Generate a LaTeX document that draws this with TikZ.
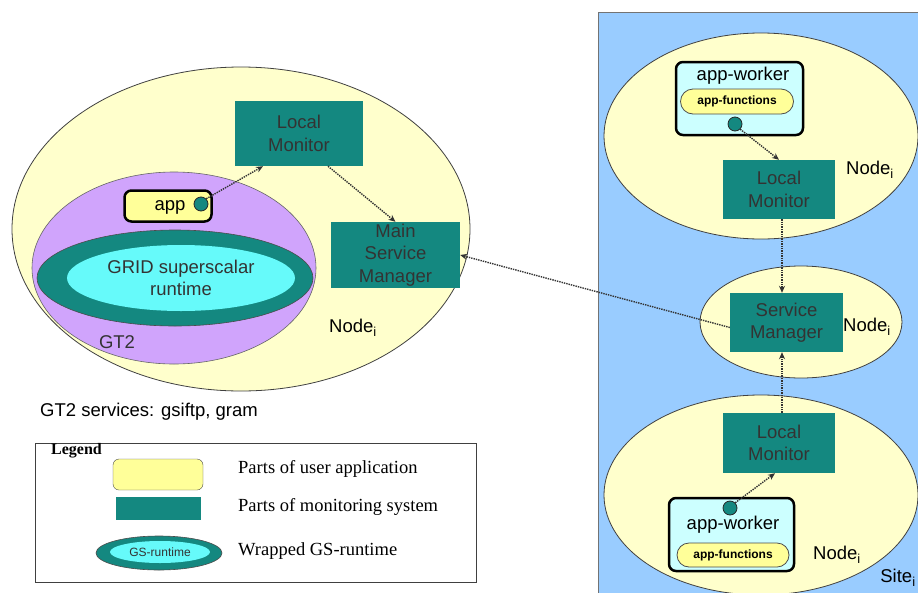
\documentclass[tikz,border=0pt]{standalone}
\usepackage{fontspec}
\setmainfont{Liberation Serif}
\setsansfont{Liberation Sans}
\usetikzlibrary{arrows.meta, shapes.geometric, shapes.misc}
\definecolor{cteal}{HTML}{148880}
\definecolor{cyell}{HTML}{FFFFCC}
\definecolor{capp}{HTML}{FFFF99}
\definecolor{cpurple}{HTML}{D0A4FC}
\definecolor{ccore}{HTML}{66FAFA}
\definecolor{cworker}{HTML}{CCFFFF}
\definecolor{csite}{HTML}{99CCFF}
\tikzset{
  every picture/.style={font=\sffamily\fontsize{18.5}{22.5}\selectfont},
  nodeell/.style={ellipse, draw=black!75, fill=cyell, line width=0.8pt, inner sep=0pt},
  gtell/.style={ellipse, draw=black!60, fill=cpurple, line width=0.6pt, inner sep=0pt},
  ringell/.style={ellipse, draw=black!70, fill=cteal, line width=0.6pt, inner sep=0pt},
  coreell/.style={ellipse, fill=ccore, text=black!80, inner sep=0pt, align=center},
  monbox/.style={rectangle, fill=cteal, text=black!80, align=center, inner sep=0pt},
  appbox/.style={draw=black, line width=2.5pt, rounded corners=7pt, inner sep=0pt},
  pill/.style={rounded rectangle, draw=black!70, fill=capp, line width=0.8pt, inner sep=0pt,
    font=\sffamily\bfseries\fontsize{12}{14}\selectfont},
  hook/.style={circle, fill=cteal, draw=black!85, line width=0.8pt, minimum size=14pt, inner sep=0pt},
  dotarrow/.style={densely dotted, line width=1.4pt, draw=black!80, -{Stealth[length=7pt, width=6pt]}},
  lbl/.style={inner sep=0pt},
  legtext/.style={inner sep=0pt, anchor=west, font=\rmfamily\fontsize{18.5}{22}\selectfont},
}
\begin{document}
\begin{tikzpicture}[x=1pt, y=-1pt]
  \useasboundingbox (0,0) rectangle (918,592);
  % site background
  \fill[csite] (598,12) rectangle (920,594);
  \draw[black!55, line width=1pt] (598,594) -- (598,12) -- (920,12);

  % master node with GT2
  \node[nodeell, minimum width=458pt, minimum height=324pt] (nodeA) at (241,229) {};
  \node[gtell, minimum width=284pt, minimum height=192pt] (gt) at (174,268) {};
  \node[ringell, minimum width=276pt, minimum height=96pt] (ring) at (175,278) {};
  \node[coreell, minimum width=228pt, minimum height=66pt] (core) at (181,278) {GRID superscalar\\runtime};
  \node[appbox, fill=capp, minimum width=87pt, minimum height=31pt] (app) at (168,206) {};
  \node[lbl] (applbl) at (170,207) {app};
  \node[hook] (hookA) at (201,204) {};
  \node[monbox, minimum width=128pt, minimum height=65pt] (lmA) at (299,133.5) {Local\\Monitor};
  \node[monbox, minimum width=129pt, minimum height=66pt] (msm) at (395.5,255) {Main\\Service\\Manager};
  \node[lbl] (nodeAlbl) at (353,328) {Node\textsubscript{i}};
  \node[lbl, text=black!80] (gtlbl) at (117,342) {GT2};
  \node[lbl, anchor=west] (gtserv) at (40,412) {GT2 services: gsiftp, gram};

  % worker node (top)
  \node[nodeell, minimum width=314pt, minimum height=206pt] (nodeB) at (761,136) {};
  \node[appbox, fill=cworker, minimum width=127pt, minimum height=73pt] (awB) at (739.5,98.5) {};
  \node[lbl] (awBlbl) at (743,76) {app-worker};
  \node[pill, minimum width=113pt, minimum height=25pt] (afB) at (737,101.5) {app-functions};
  \node[hook] (hookB) at (735,124) {};
  \node[monbox, minimum width=112pt, minimum height=59pt] (lmB) at (779,189.5) {Local\\Monitor};
  \node[lbl] (nodeBlbl) at (870,170) {Node\textsubscript{i}};

  % service manager node
  \node[nodeell, minimum width=202pt, minimum height=112pt] (nodeC) at (801,322) {};
  \node[monbox, minimum width=113pt, minimum height=59pt] (sm) at (786.5,322.5) {Service\\Manager};
  \node[lbl] (nodeClbl) at (867,327) {Node\textsubscript{i}};

  % worker node (bottom)
  \node[nodeell, minimum width=314pt, minimum height=200pt] (nodeD) at (761,495) {};
  \node[monbox, minimum width=112pt, minimum height=60pt] (lmD) at (779,443) {Local\\Monitor};
  \node[appbox, fill=cworker, minimum width=125pt, minimum height=73pt] (awD) at (731.5,534.5) {};
  \node[hook] (hookD) at (730,508) {};
  \node[lbl] (awDlbl) at (733,525) {app-worker};
  \node[pill, minimum width=112pt, minimum height=24pt] (afD) at (733,555) {app-functions};
  \node[lbl] (nodeDlbl) at (837,555) {Node\textsubscript{i}};
  \node[lbl] (sitelbl) at (898,578) {Site\textsubscript{i}};

  % monitoring flow
  \draw[dotarrow] (hookA.north east) -- ([xshift=-36pt]lmA.south);
  \draw[dotarrow] ([xshift=29pt]lmA.south) -- (msm.north);
  \draw[dotarrow] ([yshift=-5pt]sm.west) -- (msm.east);
  \draw[dotarrow] (hookB.south east) -- (lmB.north);
  \draw[dotarrow] ([xshift=3pt]lmB.south) -- ([xshift=3pt]lmB.south |- sm.north);
  \draw[dotarrow] ([xshift=3pt]lmD.north) -- ([xshift=3pt]lmD.north |- sm.south);
  \draw[dotarrow] (hookD.north east) -- ([xshift=-4pt]lmD.south);

  % legend
  \node[draw=black!75, line width=1pt, minimum width=441pt, minimum height=139pt, inner sep=0pt] (legend) at (255.5,512.5) {};
  \node[lbl, anchor=west, font=\rmfamily\bfseries\fontsize{16}{18}\selectfont] (legtitle) at (51,451) {Legend};
  \node[draw=black!70, fill=capp, rounded corners=6pt, minimum width=90pt, minimum height=31pt, inner sep=0pt] (legapp) at (158,474.5) {};
  \node[monbox, minimum width=85pt, minimum height=23pt] (legmon) at (158.5,508.5) {};
  \node[ringell, minimum width=126pt, minimum height=34pt] (legring) at (159,553) {};
  \node[coreell, minimum width=100pt, minimum height=22pt, font=\sffamily\fontsize{12}{14}\selectfont] (legcore) at (160,552) {GS-runtime};
  \node[legtext] (legt1) at (238,469) {Parts of user application};
  \node[legtext] (legt2) at (238,507) {Parts of monitoring system};
  \node[legtext] (legt3) at (238,551) {Wrapped GS-runtime};
\end{tikzpicture}
\end{document}
